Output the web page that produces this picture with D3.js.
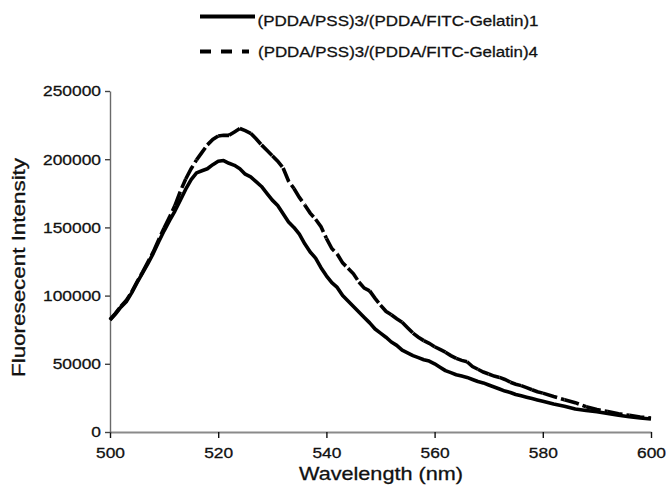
<!DOCTYPE html>
<html>
<head>
<meta charset="utf-8">
<script src="https://cdn.jsdelivr.net/npm/d3@7"></script>
<style>
  html, body { margin: 0; padding: 0; background: #fff; }
  svg text { font-family: "Liberation Sans", Arial, Helvetica, sans-serif; fill: #111; stroke: #111; stroke-width: 0.3px; }
</style>
</head>
<body>
<svg id="chart" width="667" height="495"></svg>
<script>
// ---------- DATA ----------
const wavelengths = [
  500,501,502,503,504,505,506,507,508,509,
  510,511,512,513,514,515,516,517,518,519,
  520,521,522,523,524,525,526,527,528,529,
  530,531,532,533,534,535,536,537,538,539,
  540,541,542,543,544,545,546,547,548,549,
  550,551,552,553,554,555,556,557,558,559,
  560,561,562,563,564,565,566,567,568,569,
  570,571,572,573,574,575,576,577,578,579,
  580,582,584,586,588,590,592,594,596,598,600
];
const series1 = [ // (PDDA/PSS)3/(PDDA/FITC-Gelatin)1
  82000,86500,91500,95500,102000,109500,116500,123500,131000,139500,
  147500,155000,162000,170000,178000,185000,190000,191500,193000,196000,
  198500,199000,197000,195500,193000,189000,187000,183500,180000,175000,
  170000,166000,160000,154000,150000,145000,138000,132000,127500,120500,
  114500,109500,106000,100000,96000,92000,88000,84000,80000,75500,
  72500,69500,66000,63500,60000,58000,56000,54500,53000,52000,
  50000,47500,45000,43500,42000,41000,40000,38500,37000,36000,
  34500,33000,31500,30000,29000,27500,26500,25500,24500,23500,
  22500,20500,18800,16800,15700,14800,13500,12300,11200,10300,9500
];
const series4 = [ // (PDDA/PSS)3/(PDDA/FITC-Gelatin)4
  82500,87000,92000,96500,102500,110000,117000,124500,132000,141000,
  149500,157500,166000,176500,185500,193000,199500,205000,210500,214500,
  217000,217500,217500,220000,222500,221000,219000,215000,210500,206500,
  202500,198500,193500,184000,178500,172000,166500,160500,156000,150500,
  142000,134500,130500,124000,120000,116000,110000,105500,103500,98000,
  93000,88500,86000,83000,80500,76500,72500,69500,67000,65000,
  62500,60500,58500,56000,54000,52500,51500,48000,46000,44000,
  42500,41000,40000,38500,36500,35000,34000,32500,31000,29500,
  28500,26000,23700,21500,18500,16500,15000,13300,12200,11000,10300
];
const seriesNames = ["(PDDA/PSS)3/(PDDA/FITC-Gelatin)1", "(PDDA/PSS)3/(PDDA/FITC-Gelatin)4"];
const xTicks = [500, 520, 540, 560, 580, 600];
const yTicks = [0, 50000, 100000, 150000, 200000, 250000];
const xTitle = "Wavelength (nm)";
const yTitle = "Fluoresecent Intensity";

// ---------- CHART ----------
const svg = d3.select("#chart");
const x = d3.scaleLinear().domain([500, 600]).range([110, 651]);
const y = d3.scaleLinear().domain([0, 250000]).range([432, 91]);

function stretch(sel, k) {
  sel.each(function () {
    const len = this.getComputedTextLength();
    d3.select(this).attr("textLength", len * k).attr("lengthAdjust", "spacingAndGlyphs");
  });
}

// X axis
const gx = svg.append("g").attr("transform", "translate(0,432)")
  .call(d3.axisBottom(x).tickValues(xTicks).tickSize(6).tickSizeOuter(0).tickPadding(9).tickFormat(d3.format("d")));
gx.select(".domain").attr("stroke", "#8a8a8a").attr("stroke-width", 2);
gx.selectAll(".tick line").attr("stroke", "#111").attr("stroke-width", 1.4);
gx.selectAll(".tick text").attr("font-size", 15.5).attr("fill", "#111").call(stretch, 1.12);

// Y axis
const gy = svg.append("g").attr("transform", "translate(110,0)")
  .call(d3.axisLeft(y).tickValues(yTicks).tickSize(5).tickSizeOuter(0).tickPadding(4).tickFormat(d3.format("d")));
gy.select(".domain").attr("stroke", "#6a6a6a").attr("stroke-width", 1.4);
gy.selectAll(".tick line").attr("stroke", "#444").attr("stroke-width", 1.4);
gy.selectAll(".tick text").attr("font-size", 15.5).attr("fill", "#111").call(stretch, 1.12);

// Titles
svg.append("text").attr("x", 381).attr("y", 480).attr("text-anchor", "middle")
  .attr("font-size", 18.5).attr("textLength", 164).attr("lengthAdjust", "spacingAndGlyphs").text(xTitle);
svg.append("text").attr("transform", "translate(24.5,267.5) rotate(-90)").attr("text-anchor", "middle")
  .attr("font-size", 18.5).attr("textLength", 219).attr("lengthAdjust", "spacingAndGlyphs").text(yTitle);

// Data
const d1 = wavelengths.map((w, i) => [w, series1[i]]);
const d4 = wavelengths.map((w, i) => [w, series4[i]]);
const line = d3.line().x(d => x(d[0])).y(d => y(d[1]));

// Dashed series: pattern restarts every two points (like the original plotting program)
const groups = [];
for (let i = 0; i < d4.length - 1; i += 2) groups.push(d4.slice(i, Math.min(i + 3, d4.length)));
svg.append("g").selectAll("path").data(groups).join("path")
  .attr("d", line).attr("fill", "none").attr("stroke", "#000")
  .attr("stroke-width", 3.6).attr("stroke-dasharray", "15,4").attr("stroke-linecap", "butt");

svg.append("path").datum(d1).attr("d", line).attr("fill", "none").attr("stroke", "#000")
  .attr("stroke-width", 3.6).attr("stroke-linejoin", "round");

// Legend
const lg = svg.append("g");
lg.append("line").attr("x1", 200).attr("x2", 255).attr("y1", 16.5).attr("y2", 16.5)
  .attr("stroke", "#000").attr("stroke-width", 4);
lg.append("line").attr("x1", 200).attr("x2", 249).attr("y1", 51.5).attr("y2", 51.5)
  .attr("stroke", "#000").attr("stroke-width", 4).attr("stroke-dasharray", "11,10");
lg.append("text").attr("x", 257.5).attr("y", 25.5).attr("font-size", 15.5)
  .attr("textLength", 281).attr("lengthAdjust", "spacingAndGlyphs").text(seriesNames[0]);
lg.append("text").attr("x", 258).attr("y", 57).attr("font-size", 15.5)
  .attr("textLength", 280).attr("lengthAdjust", "spacingAndGlyphs").text(seriesNames[1]);
</script>
</body>
</html>
